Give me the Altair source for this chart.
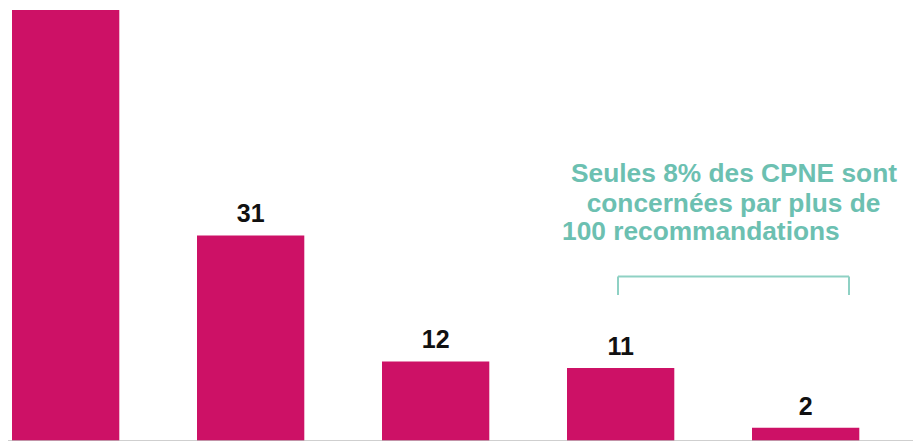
import altair as alt
import pandas as pd

# Data (first bar is cut off at the top; its label is out of view)
categories = ["Groupe 1", "Groupe 2", "Groupe 3", "Groupe 4", "Groupe 5"]
values = [65, 31, 12, 11, 2]
labels = ["65", "31", "12", "11", "2"]
label_shown = [False, True, True, True, True]

annotation_lines = ["Seules 8% des CPNE sont", "concernées par plus de", "100 recommandations"]

BAR_COLOR = "#CD1166"
TEAL = "#6CC0B1"
BRACKET = "#8FD1C4"
W, H = 905, 433

df = pd.DataFrame({"cat": categories, "val": values, "lab": labels, "show": label_shown})

x = alt.X("cat:N", sort=categories, axis=None,
          scale=alt.Scale(range=[4, 4 + 185 * (5 - 0.42)], paddingInner=0.42, paddingOuter=0))
y = alt.Y("val:Q", axis=None, scale=alt.Scale(domain=[0, 65.3], nice=False, zero=True))

base = alt.Chart(df)

bars = base.mark_bar(color=BAR_COLOR, clip=True).encode(x=x, y=y)

text = base.transform_filter(alt.datum.show).mark_text(
    font="Liberation Sans", fontSize=25, fontWeight="bold", color="#111111",
    baseline="alphabetic", dy=-13, clip=True
).encode(x=x, y=y, text="lab:N")

baseline_rule = alt.Chart(pd.DataFrame({"z": [0]})).mark_rule(
    color="#BFBFBF", strokeWidth=1.5
).encode(y=alt.Y("z:Q", scale=alt.Scale(domain=[0, 65.3], nice=False)), x=alt.value(0), x2=alt.value(W))

ann_df = pd.DataFrame({"t": annotation_lines})
ann_style = dict(font="Liberation Sans", fontSize=26.3, fontWeight="bold", color=TEAL, baseline="alphabetic")
ann1 = alt.Chart(ann_df.iloc[[0]]).mark_text(align="center", **ann_style).encode(
    text="t:N", x=alt.value(726), y=alt.value(173.5))
ann2 = alt.Chart(ann_df.iloc[[1]]).mark_text(align="center", **ann_style).encode(
    text="t:N", x=alt.value(725.5), y=alt.value(203.5))
ann3 = alt.Chart(ann_df.iloc[[2]]).mark_text(align="left", **ann_style).encode(
    text="t:N", x=alt.value(554), y=alt.value(232))

one = pd.DataFrame({"k": [0]})
br_h = alt.Chart(one).mark_rule(color=BRACKET, strokeWidth=2).encode(
    x=alt.value(610), x2=alt.value(841), y=alt.value(268.5))
br_l = alt.Chart(one).mark_rule(color=BRACKET, strokeWidth=2).encode(
    x=alt.value(610), y=alt.value(268.5), y2=alt.value(287))
br_r = alt.Chart(one).mark_rule(color=BRACKET, strokeWidth=2).encode(
    x=alt.value(841), y=alt.value(268.5), y2=alt.value(287))

chart = alt.layer(bars, text, baseline_rule, ann1, ann2, ann3, br_h, br_l, br_r).properties(
    width=W, height=H, padding=0, autosize=alt.AutoSizeParams(type="none")
).configure_view(stroke=None).resolve_scale(y="shared")

chart.save("out.html", embed_options={"renderer": "svg", "actions": False})
